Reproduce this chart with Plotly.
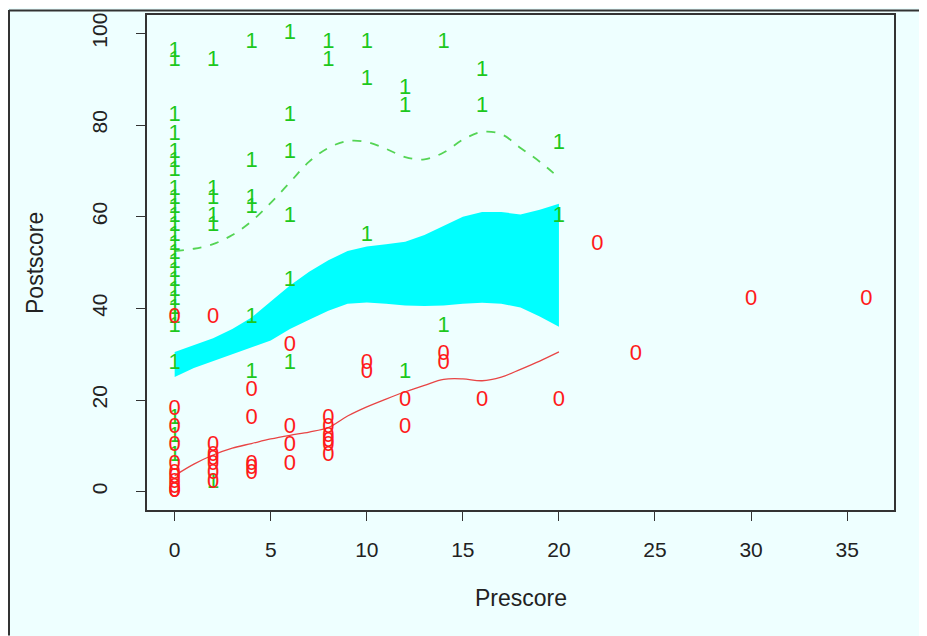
import plotly.graph_objects as go

# ---- data ----
g1_x = [0]*27 + [2]*6 + [4]*6 + [6]*6 + [8]*2 + [10]*3 + [12]*3 + [14]*2 + [16]*2 + [20]*2
g1_y = [96, 94, 82, 78, 74, 72, 70, 66, 64, 62, 60, 58, 56, 54, 52, 50, 48, 46, 44, 42, 40, 38, 36, 28, 16, 12, 8,
        94, 66, 64, 60, 58, 2,
        98, 72, 64, 62, 38, 26,
        100, 82, 74, 60, 46, 28,
        98, 94,
        98, 90, 56,
        88, 84, 26,
        98, 36,
        92, 84,
        76, 60]

g0_x = [0]*11 + [2]*7 + [4]*5 + [6]*4 + [8]*6 + [10]*2 + [12]*2 + [14]*2 + [16, 20, 22, 24, 30, 36]
g0_y = [38, 18, 14, 10, 6, 4, 3, 2, 1, 0, 0,
        38, 10, 8, 7, 6, 4, 2,
        22, 16, 6, 5, 4,
        32, 14, 10, 6,
        16, 14, 12, 11, 10, 8,
        28, 26,
        20, 14,
        30, 28,
        20, 20, 54, 30, 42, 42]

curve_x = list(range(0, 21))
green_line = [52.5, 53, 54, 56, 59, 63, 67.5, 72, 75, 76.5, 76.3, 74.8, 73, 72.5, 74, 76.8, 78.5, 78, 75, 72, 68.5]
red_line = [3.5, 6, 8, 9.5, 10.5, 11.5, 12.3, 13, 14, 16.5, 18.5, 20.2, 21.8, 23.2, 24.5, 24.6, 24.2, 25, 26.7, 28.5, 30.5]
band_upper = [30.5, 32, 33.5, 35.5, 38, 41.5, 45, 48, 50.5, 52.5, 53.5, 54, 54.5, 56, 58, 60, 61, 61, 60.5, 61.5, 62.8]
band_lower = [25, 27, 28.5, 30, 31.5, 33, 35.5, 37.5, 39.5, 41, 41.3, 41, 40.6, 40.5, 40.6, 41, 41.2, 41, 40.2, 38.2, 36]

x_ticks = [0, 5, 10, 15, 20, 25, 30, 35]
y_ticks = [0, 20, 40, 60, 80, 100]

BG = "#EEFFFF"
AX = "#333333"
FONT = "Liberation Sans, Arial"

fig = go.Figure()

# band
fig.add_trace(go.Scatter(x=curve_x + curve_x[::-1], y=band_upper + band_lower[::-1],
                         fill="toself", fillcolor="#00FFFF", line=dict(width=0, color="#00FFFF"),
                         mode="lines", hoverinfo="skip"))
# lines
fig.add_trace(go.Scatter(x=curve_x, y=green_line, mode="lines",
                         line=dict(color="#55D455", width=1.8, dash="dash"), line_shape="spline"))
fig.add_trace(go.Scatter(x=curve_x, y=red_line, mode="lines",
                         line=dict(color="#E84545", width=1.3), line_shape="spline"))
# points
fig.add_trace(go.Scatter(x=g1_x, y=g1_y, mode="text", text=["1"]*len(g1_x),
                         textfont=dict(color="#1DC81D", size=22, family=FONT)))
fig.add_trace(go.Scatter(x=g0_x, y=g0_y, mode="text", text=["0"]*len(g0_x),
                         textfont=dict(color="#FF1A1A", size=22, family=FONT)))

# page body has an 8px margin, so figure coords = page coords - 8
FW, FH = 918, 628
L, R, T, B = 139, 886, 5, 502
W, H = R - L, B - T
def px2u(px): return (px - L) / W
def py2v(py): return (B - py) / H

# outer frame (figure border: left, top, right)
fig.add_shape(type="line", xref="paper", yref="paper",
              x0=px2u(1), x1=px2u(917), y0=py2v(0.5), y1=py2v(0.5), line=dict(color=AX, width=2))
fig.add_shape(type="line", xref="paper", yref="paper",
              x0=px2u(1), x1=px2u(1), y0=py2v(0), y1=py2v(FH), line=dict(color=AX, width=2))
fig.add_shape(type="line", xref="paper", yref="paper",
              x0=px2u(917), x1=px2u(917), y0=py2v(0), y1=py2v(FH), line=dict(color=AX, width=2))

fig.add_annotation(text="Prescore", xref="paper", yref="paper", x=px2u(513), y=py2v(590),
                   xanchor="center", yanchor="middle",
                   showarrow=False, font=dict(size=23, color="#222", family=FONT))
fig.add_annotation(text="Postscore", xref="paper", yref="paper", x=px2u(27), y=py2v(254),
                   xanchor="center", yanchor="middle",
                   showarrow=False, textangle=-90, font=dict(size=23, color="#222", family=FONT))

fig.update_layout(
    width=FW, height=FH, autosize=False,
    margin=dict(l=L, r=FW - R, t=T, b=FH - B, pad=0),
    paper_bgcolor=BG, plot_bgcolor=BG, showlegend=False,
    font=dict(family=FONT, color="#222"),
)
fig.update_xaxes(range=[-1.44, 37.44], tickvals=x_ticks, ticks="outside", ticklen=9, tickcolor=AX,
                 showline=True, linecolor=AX, linewidth=1.5, mirror=True, showgrid=False, zeroline=False,
                 tickfont=dict(size=21, color="#222"), ticklabelstandoff=11)
fig.update_yaxes(range=[-4, 104], tickvals=y_ticks, ticks="outside", ticklen=9, tickcolor=AX,
                 showline=True, linecolor=AX, linewidth=1.5, mirror=True, showgrid=False, zeroline=False,
                 tickangle=-90, tickfont=dict(size=21, color="#222"), ticklabelstandoff=21)

fig.write_html("out.html")
